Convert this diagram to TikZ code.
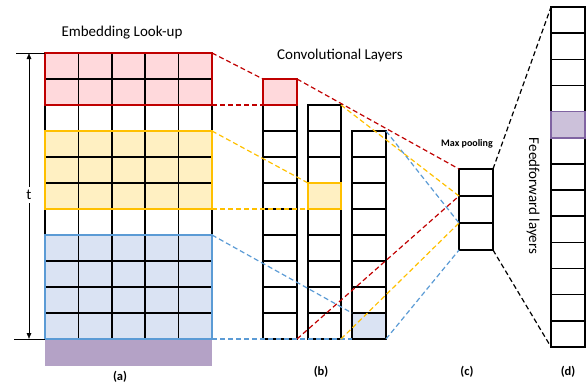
\documentclass[tikz,border=0pt]{standalone}
\usepackage{fontspec}
\setmainfont{Carlito}
\usetikzlibrary{arrows.meta}

\definecolor{embred}{RGB}{192,0,0}
\definecolor{redfill}{RGB}{255,217,220}
\definecolor{embyel}{RGB}{255,192,0}
\definecolor{yelfill}{RGB}{255,240,194}
\definecolor{embblue}{RGB}{91,155,213}
\definecolor{bluefill}{RGB}{218,227,243}
\definecolor{embpurple}{RGB}{180,162,198}
\definecolor{ffpurple}{RGB}{128,100,162}
\definecolor{ffpurplefill}{RGB}{204,193,218}

\begin{document}
\begin{tikzpicture}[x=1pt,y=-1pt,
  box/.style={inner sep=0pt, outer sep=0pt, anchor=north west},
  grid/.style={draw=black, line width=1.6pt},
  link/.style={line width=1.2pt, dash pattern=on 5pt off 3pt},
  title/.style={font=\fontsize{15}{18}\selectfont},
  tag/.style={font=\fontsize{12.5}{14}\selectfont\bfseries}]
  \useasboundingbox (0,0) rectangle (588,383);

  % (a) embedding look-up
  \fill[redfill] (45,53) rectangle (212,105);
  \fill[yelfill] (45,131) rectangle (212,209);
  \fill[bluefill] (45,235) rectangle (212,339);
  \node[box, fill=embpurple, minimum width=167pt, minimum height=27pt] (bar) at (45,339) {};
  \foreach \i in {0,...,5} {
    \draw[grid] ({45+\i*33.4},53) -- ({45+\i*33.4},339);
  }
  \foreach \j in {0,...,11} {
    \draw[grid] (45,{53+\j*26}) -- (212,{53+\j*26});
  }
  \node[box, draw=embred, line width=2.2pt, minimum width=167pt, minimum height=52pt] (red) at (45,53) {};
  \node[box, draw=embyel, line width=2.2pt, minimum width=167pt, minimum height=78pt] (yel) at (45,131) {};
  \node[box, draw=embblue, line width=2.2pt, minimum width=167pt, minimum height=104pt] (blu) at (45,235) {};

  % length t
  \coordinate (ttop) at (29,53);
  \coordinate (tbot) at (29,339);
  \draw[thin] (16,53) -- (red.north west);
  \draw[thin] (14,339) -- (bar.north west);
  \node[title] (t) at (29,195) {t};
  \draw[-{Latex[length=6pt,width=5pt]}] (t) -- (ttop);
  \draw[-{Latex[length=6pt,width=5pt]}] (t) -- (tbot);

  \node[title] (emb) at (122,33) {Embedding Look-up};
  \node[title] (conv) at (340,55) {Convolutional Layers};

  % (b) convolutional layers
  \foreach \k in {0,...,9} {
    \draw[grid] (263,{79+26*\k}) rectangle ++(34,26);
  }
  \foreach \k in {0,...,8} {
    \draw[grid] (308,{105+26*\k}) rectangle ++(33,26);
  }
  \foreach \k in {0,...,7} {
    \draw[grid] (352,{131+26*\k}) rectangle ++(34,26);
  }
  \node[box, minimum width=34pt, minimum height=260pt] (b1) at (263,79) {};
  \node[box, minimum width=33pt, minimum height=234pt] (b2) at (308,105) {};
  \node[box, minimum width=34pt, minimum height=208pt] (b3) at (352,131) {};
  \node[box, fill=redfill, draw=embred, line width=2.2pt, minimum width=34pt, minimum height=26pt] (b1r) at (263,79) {};
  \node[box, fill=yelfill, draw=embyel, line width=2.2pt, minimum width=33pt, minimum height=26pt] (b2y) at (308,183) {};
  \node[box, fill=bluefill, grid, minimum width=34pt, minimum height=26pt] (b3b) at (352,313) {};

  % (c) max pooling
  \foreach \k in {1,2,3} {
    \node[box, grid, minimum width=34pt, minimum height=27pt] (c\k) at (459,{169+27*(\k-1)}) {};
  }
  \node[font=\fontsize{10}{12}\selectfont\bfseries] (maxp) at (467,144) {Max pooling};

  % (d) feedforward layers
  \foreach \k in {0,...,12} {
    \draw[grid] (551,{7+26.15*\k}) rectangle ++(34,26.15);
  }
  \node[box, minimum width=34pt, minimum height=340pt] (d) at (551,7) {};
  \node[box, fill=ffpurplefill, draw=ffpurple, line width=1.6pt, minimum width=34pt, minimum height=26.15pt] (dp) at (551,111.6) {};
  \node[title, rotate=-90] (ff) at (533,196) {Feedforward layers};

  % dashed links
  \draw[link, embred] (red.north east) -- (b1r.north west);
  \draw[link, embred] (red.south east) -- (b1r.south west);
  \draw[link, embyel] (yel.north east) -- (b2y.north west);
  \draw[link, embyel] (yel.south east) -- (b2y.south west);
  \draw[link, embblue] (blu.north east) -- (b3b.north west);
  \draw[link, embblue] (blu.south east) -- (b3b.south west);
  \draw[link, embred] (b1.north east) -- (c1.north west);
  \draw[link, embred] (b1.south east) -- (c1.south west);
  \draw[link, embyel] (b2.north east) -- (c2.north west);
  \draw[link, embyel] (b2.south east) -- (c2.south west);
  \draw[link, embblue] (b3.north east) -- (c3.north west);
  \draw[link, embblue] (b3.south east) -- (c3.south west);
  \draw[link, black] (c1.north east) -- (d.north west);
  \draw[link, black] (c3.south east) -- (d.south west);

  \node[tag] (la) at (120,377) {(a)};
  \node[tag] (lb) at (321,372) {(b)};
  \node[tag] (lc) at (467,372) {(c)};
  \node[tag] (ld) at (568,372) {(d)};
\end{tikzpicture}
\end{document}
